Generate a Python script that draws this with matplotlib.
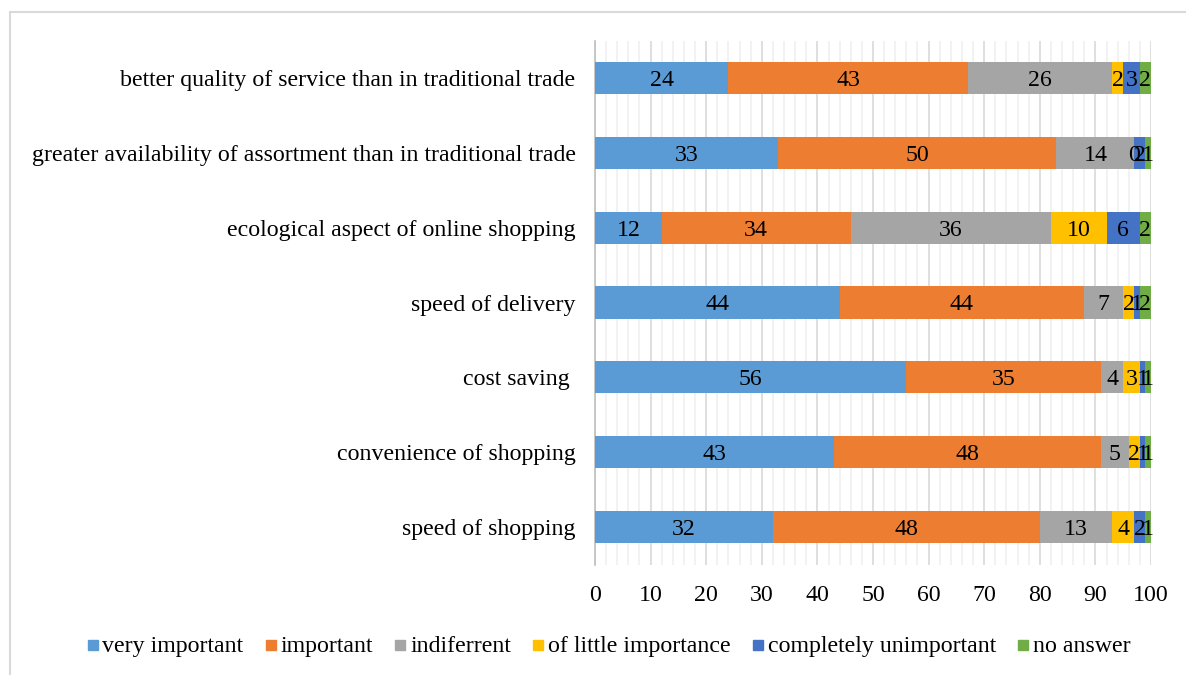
import numpy as np
import matplotlib.pyplot as plt
from matplotlib.patches import Rectangle

plt.rcParams['font.family'] = ['Liberation Serif', 'DejaVu Serif']

# data (top row first)
categories = [
    "better quality of service than in traditional trade",
    "greater availability of assortment than in traditional trade",
    "ecological aspect of online shopping",
    "speed of delivery",
    "cost saving ",
    "convenience of shopping",
    "speed of shopping",
]
series_names = ["very important", "important", "indiferrent",
                "of little importance", "completely unimportant", "no answer"]
very_important = [24, 33, 12, 44, 56, 43, 32]
important = [43, 50, 34, 44, 35, 48, 48]
indifferent = [26, 14, 36, 7, 4, 5, 13]
little_importance = [2, 0, 10, 2, 3, 2, 4]
completely_unimportant = [3, 2, 6, 1, 1, 1, 2]
no_answer = [2, 1, 2, 2, 1, 1, 1]
x_ticks = [0, 10, 20, 30, 40, 50, 60, 70, 80, 90, 100]

colors = ["#5B9BD5", "#ED7D31", "#A5A5A5", "#FFC000", "#4472C4", "#70AD47"]
series = [very_important, important, indifferent, little_importance,
          completely_unimportant, no_answer]

FS = 17.2
W, H = 1186, 675

fig = plt.figure(figsize=(W / 100, H / 100), dpi=100)
ax = fig.add_axes([595 / W, 1 - 564.5 / H, 556 / W, 524 / H])

# outer chart frame (only top/left visible in the reference)
fig.patches.append(Rectangle((10 / W, -0.1), 1.2, 1 - 12 / H + 0.1,
                             transform=fig.transFigure, fill=False,
                             edgecolor="#D9D9D9", linewidth=1.5))

y = np.arange(len(categories))[::-1]
left = np.zeros(len(categories))
for vals, col, name in zip(series, colors, series_names):
    vals = np.array(vals, dtype=float)
    ax.barh(y, vals, left=left, height=0.43, color=col, label=name, zorder=3)
    for yi, l, v in zip(y, left, vals):
        ax.text(l + v / 2, yi, f"{int(v)}", ha="center", va="center_baseline",
                fontsize=FS, color="black", zorder=4)
    left += vals

ax.set_xlim(0, 100)
ax.set_ylim(-0.5, len(categories) - 0.5)
ax.set_xticks(x_ticks)
ax.set_xticks(np.arange(0, 101, 2), minor=True)
ax.grid(axis="x", which="major", color="#D9D9D9", linewidth=1.2, zorder=0)
ax.grid(axis="x", which="minor", color="#F0F0F0", linewidth=1.2, zorder=0)
ax.set_yticks(y)
ax.set_yticklabels(categories, fontsize=FS)
ax.tick_params(axis="both", which="both", length=0)
ax.tick_params(axis="x", labelsize=FS, pad=15)
ax.tick_params(axis="y", pad=14)
for s in ["top", "right", "bottom"]:
    ax.spines[s].set_visible(False)
ax.spines["left"].set_color("#BFBFBF")
ax.spines["left"].set_linewidth(1.2)

# legend drawn by hand so every entry shares one baseline
renderer = fig.canvas.get_renderer()
sq, gap, spacing = 10, 5, 22
baseline = H - 652
texts = []
for name in series_names:
    t = fig.text(0, baseline / H, name, fontsize=FS, va="baseline", ha="left")
    texts.append(t)
widths = [t.get_window_extent(renderer).width for t in texts]
total = sum(sq + gap + w for w in widths) + spacing * (len(widths) - 1)
x = 609 - total / 2
for t, w, col in zip(texts, widths, colors):
    fig.patches.append(Rectangle((x / W, (H - 650) / H), sq / W, sq / H,
                                 transform=fig.transFigure, color=col))
    t.set_x((x + sq + gap) / W)
    x += sq + gap + w + spacing

fig.savefig("out.png", dpi=100)
